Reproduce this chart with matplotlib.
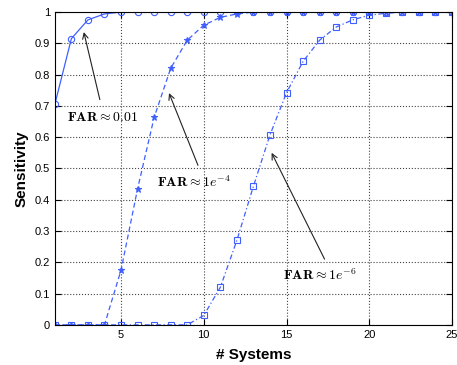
import numpy as np
import matplotlib
matplotlib.use("Agg")
import matplotlib.pyplot as plt

plt.rcParams['font.family'] = ['Liberation Sans', 'DejaVu Sans']
plt.rcParams['mathtext.fontset'] = 'cm'

systems = list(range(1, 26))
far_001 = [0.705, 0.915, 0.975, 0.994] + [1.0] * 21
far_1e4 = [0, 0, 0, 0, 0.175, 0.435, 0.663, 0.82, 0.91, 0.958,
           0.983, 0.994, 1.0] + [1.0] * 12
far_1e6 = [0, 0, 0, 0, 0, 0, 0, 0, 0, 0.03, 0.12, 0.27, 0.443,
           0.607, 0.742, 0.842, 0.91, 0.952, 0.975, 0.99, 0.996] + [1.0] * 4

blue = '#3f5fff'

fig = plt.figure(figsize=(4.57, 3.65), dpi=100)
ax = fig.add_axes([0.120, 0.110, 0.869, 0.857])

ax.plot(systems, far_001, '-', color=blue, lw=0.9, marker='o', ms=4.5,
        mfc='none', mec=blue, mew=0.8)
ax.plot(systems, far_1e4, color=blue, lw=0.9, dashes=(4, 2.5), marker='*', ms=5,
        mfc=blue, mec=blue, mew=0.8)
ax.plot(systems, far_1e6, color=blue, lw=0.9, dashes=(4, 2, 1, 2), marker='s', ms=4.5,
        mfc='none', mec=blue, mew=0.8)

ax.set_xlim(1, 25)
ax.set_ylim(0, 1)
ax.set_xticks([5, 10, 15, 20, 25])
ax.set_yticks(np.arange(0, 1.01, 0.1))
ax.set_yticklabels(['0', '0.1', '0.2', '0.3', '0.4', '0.5', '0.6', '0.7', '0.8', '0.9', '1'])
ax.tick_params(direction='in', labelsize=8, top=True, right=True, length=4, width=0.8)
ax.grid(True, linestyle=':', color='#444444', lw=0.8)
for s in ax.spines.values():
    s.set_linewidth(0.8)

ax.set_xlabel('# Systems', fontsize=11, fontweight='bold', labelpad=6)
ax.set_ylabel('Sensitivity', fontsize=11, fontweight='bold', labelpad=4)

arrow = dict(arrowstyle='->', color='#222222', lw=0.8, shrinkA=0, shrinkB=0)
ax.annotate('', xy=(2.75, 0.936), xytext=(3.72, 0.72), arrowprops=arrow)
ax.text(1.73, 0.665, r'$\mathbf{FAR}\approx\mathbf{0.01}$', fontsize=10, va='center')
ax.annotate('', xy=(7.9, 0.741), xytext=(9.65, 0.51), arrowprops=arrow)
ax.text(7.15, 0.455, r'$\mathbf{FAR}\approx 1e^{-4}$', fontsize=10, va='center')
ax.annotate('', xy=(14.1, 0.55), xytext=(17.3, 0.21), arrowprops=arrow)
ax.text(14.8, 0.16, r'$\mathbf{FAR}\approx 1e^{-6}$', fontsize=10, va='center')

fig.savefig('out.png', dpi=100)
